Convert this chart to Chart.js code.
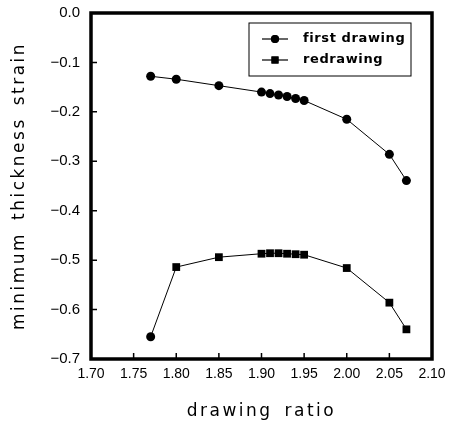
<!DOCTYPE html>
<html><head><meta charset="utf-8">
<script src="https://cdn.jsdelivr.net/npm/chart.js@4/dist/chart.umd.min.js"></script>
<style>html,body{margin:0;padding:0;background:#fff}#wrap{width:450px;height:427px}</style>
</head><body><div id="wrap"><canvas id="c" width="450" height="427"></canvas></div>
<script>
const drawingRatio = [1.77, 1.80, 1.85, 1.90, 1.91, 1.92, 1.93, 1.94, 1.95, 2.00, 2.05, 2.07];
const firstDrawing = [-0.128, -0.134, -0.147, -0.160, -0.163, -0.166, -0.169, -0.173, -0.177, -0.215, -0.286, -0.339];
const redrawing = [-0.655, -0.514, -0.494, -0.487, -0.486, -0.486, -0.487, -0.488, -0.489, -0.516, -0.586, -0.640];
const seriesNames = ['first drawing', 'redrawing'];
const xTitle = 'drawing ratio';
const yTitle = 'minimum thickness strain';

const FONT = '"DejaVu Sans", sans-serif';
const TICKFONT = '"Liberation Sans", sans-serif';
const toPts = ys => ys.map((y, i) => ({x: drawingRatio[i], y}));

const framePlugin = {
  id: 'frame',
  afterDraw(chart) {
    const {ctx, chartArea: a, scales} = chart;
    ctx.save();
    ctx.strokeStyle = '#000';
    ctx.lineWidth = 1.5;
    ctx.beginPath();
    scales.x.ticks.forEach(t => {
      const px = scales.x.getPixelForValue(t.value);
      ctx.moveTo(px, a.bottom); ctx.lineTo(px, a.bottom - 6);
    });
    scales.y.ticks.forEach(t => {
      const py = scales.y.getPixelForValue(t.value);
      ctx.moveTo(a.left, py); ctx.lineTo(a.left + 6, py);
    });
    ctx.stroke();
    ctx.lineWidth = 3.5;
    ctx.strokeRect(a.left, a.top, a.right - a.left, a.bottom - a.top);
    // legend
    const lx = 249, ly = 23, lw = 162, lh = 53;
    ctx.lineWidth = 1;
    ctx.strokeRect(lx, ly, lw, lh);
    const rows = [ly + 16, ly + 37];
    chart.data.datasets.forEach((ds, i) => {
      const y = rows[i];
      ctx.beginPath();
      ctx.moveTo(lx + 13, y); ctx.lineTo(lx + 39, y);
      ctx.lineWidth = 1.2; ctx.stroke();
      ctx.fillStyle = '#000';
      Chart.helpers.drawPoint(ctx, {pointStyle: i === 0 ? 'circle' : 'rect', radius: i === 0 ? 4 : 5, borderWidth: 0}, lx + 26, y);
      ctx.fill();
      ctx.font = 'bold 13px ' + FONT;
      ctx.letterSpacing = '0.6px';
      ctx.textBaseline = 'middle';
      ctx.textAlign = 'left';
      ctx.fillText(ds.label, lx + 54, y);
    });
    // axis titles
    ctx.letterSpacing = '2.5px';
    ctx.wordSpacing = '4px';
    ctx.font = '17px ' + FONT;
    ctx.textAlign = 'center';
    ctx.textBaseline = 'middle';
    ctx.fillText(xTitle, (a.left + a.right) / 2, 412);
    ctx.translate(20, (a.top + a.bottom) / 2);
    ctx.rotate(-Math.PI / 2);
    ctx.fillText(yTitle, 0, 0);
    ctx.restore();
  }
};

new Chart(document.getElementById('c'), {
  type: 'line',
  data: {
    datasets: [
      {label: seriesNames[0], data: toPts(firstDrawing), borderColor: '#000', backgroundColor: '#000', borderWidth: 1, pointStyle: 'circle', pointRadius: 4.5, pointBorderWidth: 0, tension: 0},
      {label: seriesNames[1], data: toPts(redrawing), borderColor: '#000', backgroundColor: '#000', borderWidth: 1, pointStyle: redrawing.map((v, i) => i === 0 ? 'circle' : 'rect'), pointRadius: redrawing.map((v, i) => i === 0 ? 4.5 : 5.5), pointBorderWidth: 0, tension: 0}
    ]
  },
  options: {
    responsive: false,
    animation: false,
    devicePixelRatio: 1,
    layout: {padding: {left: 0, right: 18, top: 13, bottom: 0}},
    plugins: {legend: {display: false}, tooltip: {enabled: false}},
    scales: {
      x: {
        type: 'linear', min: 1.7, max: 2.1,
        grid: {display: false, drawTicks: false},
        border: {display: false},
        ticks: {stepSize: 0.05, padding: 7, color: '#000', font: {family: TICKFONT, size: 14}, maxRotation: 0, autoSkip: false, callback: v => v.toFixed(2)},
        afterFit: s => { s.height = 68; s.paddingLeft = 0; s.paddingRight = 0; }
      },
      y: {
        min: -0.7, max: 0,
        grid: {display: false, drawTicks: false},
        border: {display: false},
        ticks: {stepSize: 0.1, padding: 11, color: '#000', font: {family: TICKFONT, size: 15}, callback: v => v.toFixed(1).replace('-', '\u2212')},
        afterFit: s => { s.width = 91; s.paddingTop = 0; s.paddingBottom = 0; }
      }
    }
  },
  plugins: [framePlugin]
});
</script>
</body></html>
